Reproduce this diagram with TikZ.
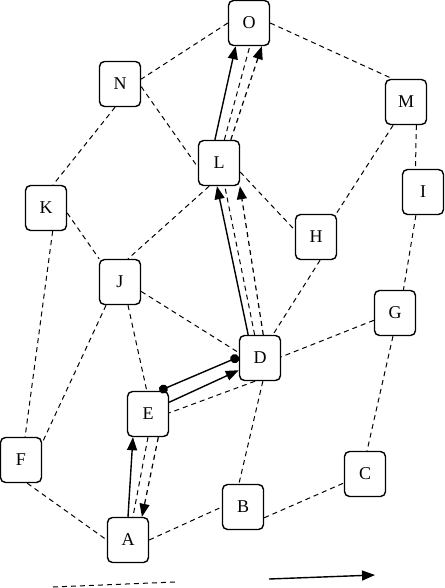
\documentclass[tikz,border=0pt]{standalone}
\usepackage{fontspec}
\setmainfont{Liberation Serif}
\usetikzlibrary{arrows.meta}
\begin{document}
\begin{tikzpicture}[x=1pt,y=-1pt,
  vtx/.style={draw, rectangle, rounded corners=5pt, line width=1.4pt,
    minimum width=41pt, minimum height=45pt, inner sep=0pt,
    font=\fontsize{18}{18}\selectfont},
  edge/.style={dash pattern=on 5pt off 4pt, line width=1pt},
  tipped/.style={-{Triangle[length=13pt,width=10pt]}},
  solidarrow/.style={line width=1.4pt, tipped},
  dasharrow/.style={edge, line width=1.2pt, tipped},
  dotline/.style={line width=1.4pt, {Circle[length=9pt]}-{Circle[length=9pt]}}]
\useasboundingbox (0,0) rectangle (444,588);
\node[vtx] (O) at (249,23) {O};
\node[vtx] (N) at (120,84) {N};
\node[vtx] (M) at (406,102) {M};
\node[vtx] (L) at (219,163) {L};
\node[vtx] (I) at (423,192) {I};
\node[vtx] (K) at (46,208) {K};
\node[vtx] (H) at (316,237) {H};
\node[vtx] (J) at (120,282) {J};
\node[vtx] (G) at (395,313) {G};
\node[vtx] (D) at (260,358) {D};
\node[vtx] (E) at (148,414) {E};
\node[vtx] (F) at (21,460) {F};
\node[vtx] (C) at (365,474) {C};
\node[vtx] (B) at (243,507) {B};
\node[vtx] (A) at (128,540) {A};
% graph edges
\draw[edge] (O.west) -- (N.13);
\draw[edge] (O.east) -- (M.120);
\draw[edge] (N.-7) -- (L.191);
\draw[edge] (N.-102) -- (K.73);
\draw[edge] (M.-66) -- (I.108);
\draw[edge] (M.-119) -- (H.49);
\draw[edge] (L.-23) -- (H.162);
\draw[edge] (L.-113) -- (J.71);
\draw[edge] (K.-13) -- (J.132);
\draw[edge] (K.-74) -- (F.80);
\draw[edge] (J.-121) -- (F.39);
\draw[edge] (J.-71) -- (E.93);
\draw[edge] (J.-24) -- (D.166);
\draw[edge] (H.-80) -- (D.61);
\draw[edge] (I.-107) -- (G.70);
\draw[edge] (G.199) -- (D.3);
\draw[edge] (G.-95) -- (C.85);
\draw[edge] (D.-102) -- (E.3);
\draw[edge] (D.-83) -- (B.100);
\draw[edge] (F.-75) -- (A.west);
\draw[edge] (A.east) -- (B.west);
\draw[edge] (B.-27) -- (C.-157);
\draw[edge] (E.-90) -- (A.78);
\draw[edge] (D.103) -- (L.-76);
\draw[edge] (L.77) -- (O.-88);
% path arrows
\draw[solidarrow] (A.90) -- (E.-123);
\draw[dasharrow] (E.-66) -- (A.59);
\draw[dotline] (E.64) -- (D.177);
\draw[solidarrow] (E.29) -- (D.-150);
\draw[solidarrow] (D.117) -- (L.-95);
\draw[dasharrow] (D.82) -- (L.-48);
\draw[solidarrow] (L.100) -- (O.-120);
\draw[dasharrow] (L.63) -- (O.-61);
% legend
\coordinate (ld1) at (53,587);
\coordinate (ld2) at (175,582);
\coordinate (ls1) at (269,579);
\coordinate (ls2) at (375,575);
\draw[edge] (ld1) -- (ld2);
\draw[solidarrow] (ls1) -- (ls2);
\end{tikzpicture}
\end{document}
